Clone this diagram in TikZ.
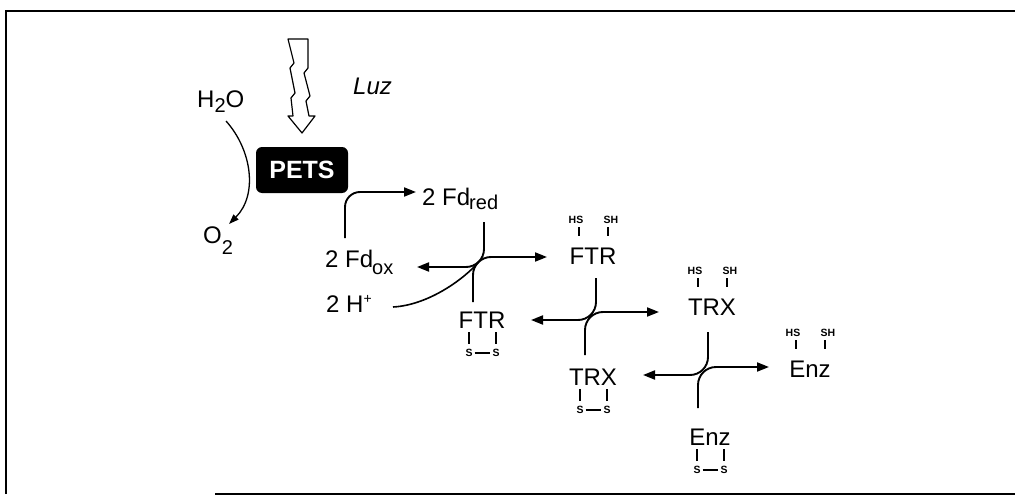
\documentclass[tikz,border=0pt]{standalone}
\usepackage{fontspec}
\setmainfont{Liberation Sans}
\usetikzlibrary{arrows.meta,calc}
\newcommand{\sulfred}[1]{%
  \node[tiny] (#1hs) at ($(#1.north)+(-17,-27)$) {HS};
  \node[tiny] (#1sh) at ($(#1.north)+(18,-27)$) {SH};
  \draw[tickln] ($(#1.north)+(-14,-20)$) -- ($(#1.north)+(-14,-11)$);
  \draw[tickln] ($(#1.north)+(15,-20)$) -- ($(#1.north)+(15,-11)$);
}
\newcommand{\sulfox}[1]{%
  \node[tiny] (#1sa) at ($(#1.base)+(-13,25)$) {S};
  \node[tiny] (#1sb) at ($(#1.base)+(14,25)$) {S};
  \draw[tickln] ($(#1.base)+(-13,4)$) -- ($(#1.base)+(-13,16)$);
  \draw[tickln] ($(#1.base)+(14,4)$) -- ($(#1.base)+(14,16)$);
  \draw[line width=1.5pt] ($(#1sa.east)+(2,0)$) -- ($(#1sb.west)+(-2,0)$);
}
\newcommand{\lowsub}[2]{\raisebox{-#1pt}{\fontsize{20}{22}\selectfont #2}}
\begin{document}
\begin{tikzpicture}[x=1pt,y=-1pt,
  lab/.style={inner sep=0pt, font=\fontsize{24}{26}\selectfont},
  tiny/.style={inner sep=0pt, font=\bfseries\fontsize{10.5}{12}\selectfont},
  arr/.style={line width=1.9pt, -{Triangle[length=12pt,width=9pt]}, rounded corners=18pt},
  ln/.style={line width=1.6pt, rounded corners=18pt},
  tickln/.style={line width=1.1pt},
  frameln/.style={line width=2pt}]
\useasboundingbox (0,0) rectangle (1015,495);
% frame
\draw[frameln] (6,494) -- (6,11) -- (1015,11);
\draw[frameln] (215,494) -- (1015,494);

% light
\draw[line width=1.2pt, fill=white, line join=round]
  (288,39) -- (294,63) -- (290,68) -- (295,93) -- (291,98) -- (293,116)
  -- (288,116) -- (302,133) -- (315,116) -- (309,116) -- (306,101)
  -- (310,96) -- (304,73) -- (308,68) -- (308,39) -- cycle;
\node[lab, font=\itshape\fontsize{24}{26}\selectfont, anchor=base west] (luz) at (353,95) {Luz};

% PETS
\node[fill=black, rounded corners=6pt, minimum width=92pt, minimum height=46pt,
      text=white, font=\bfseries\fontsize{25}{27}\selectfont, inner sep=0pt] (pets) at (302,170) {PETS};

% water
\node[lab, anchor=base west] (h2o) at (197,107) {H\lowsub{5}{2}O};
\node[lab, anchor=base west] (o2) at (203,243) {O\lowsub{11}{2}};
\coordinate (wstart) at (226,121);
\coordinate (wend) at (229,224);
\draw[line width=1.3pt, -{Triangle[length=10pt,width=7pt]}]
  (wstart) .. controls (252,150) and (258,195) .. (wend);

% ferredoxin
\node[lab, anchor=base west] (fdred) at (422,205) {2 Fd\kern-1pt\lowsub{4}{red}};
\node[lab, anchor=base west] (fdox) at (325,267) {2 Fd\kern-1pt\lowsub{7}{ox}};
\node[lab, anchor=base west] (hplus) at (326,312) {2 H\raisebox{9pt}{\fontsize{14}{15}\selectfont +}};

% FTR, TRX, Enz
\node[lab, anchor=base] (ftrR) at (593,264) {FTR};
\node[lab, anchor=base] (ftrO) at (482,328) {FTR};
\node[lab, anchor=base] (trxR) at (712,315) {TRX};
\node[lab, anchor=base] (trxO) at (593,385) {TRX};
\node[lab, anchor=base] (enzR) at (810,377) {Enz};
\node[lab, anchor=base] (enzO) at (710,445) {Enz};
\sulfred{ftrR}
\sulfred{trxR}
\sulfred{enzR}
\sulfox{ftrO}
\sulfox{trxO}
\sulfox{enzO}

% step 0: Fd_ox -> Fd_red
\coordinate (s0a) at (345,238);
\coordinate (s0b) at (416,192);
\draw[arr, rounded corners=15pt] (s0a) |- (s0b);

% step 1
\coordinate (s1a) at (484,222);
\coordinate (s1b) at (417,267);
\coordinate (s1c) at (473,302);
\coordinate (s1d) at (547,257);
\coordinate (s1j) at (478.3,262.3);
\draw[arr] (s1a) |- (s1b);
\draw[arr] (s1c) |- (s1d);
\coordinate (hstart) at (393,307);
\draw[ln] (hstart) .. controls (430,305) and (466,277) .. (s1j);

% step 2
\coordinate (s2a) at (596,278);
\coordinate (s2b) at (531,320);
\coordinate (s2c) at (585,355);
\coordinate (s2d) at (659,312);
\draw[arr] (s2a) |- (s2b);
\draw[arr] (s2c) |- (s2d);

% step 3
\coordinate (s3a) at (708,332);
\coordinate (s3b) at (643,375);
\coordinate (s3c) at (698,408);
\coordinate (s3d) at (769,367);
\draw[arr] (s3a) |- (s3b);
\draw[arr] (s3c) |- (s3d);
\end{tikzpicture}
\end{document}
